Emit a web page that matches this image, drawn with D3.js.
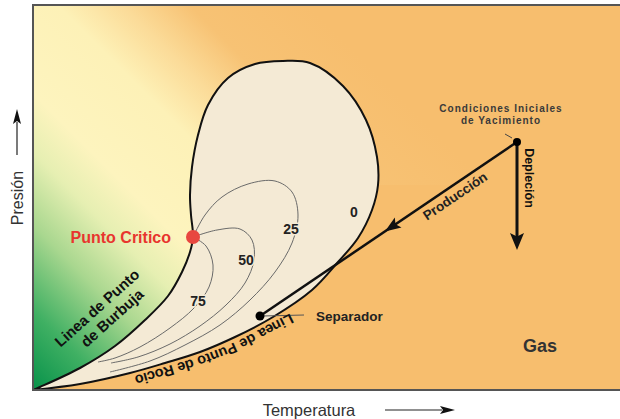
<!DOCTYPE html>
<html>
<head>
<meta charset="utf-8">
<script src="https://cdnjs.cloudflare.com/ajax/libs/d3/7.8.5/d3.min.js"></script>
<style>
  body { margin: 0; background: #fff; }
  svg { display: block; font-family: "Liberation Sans", Arial, sans-serif; }
</style>
</head>
<body>
<svg id="chart" width="620" height="419"></svg>
<script>
// Phase envelope (temperature / pressure in arbitrary units)
const bubbleLine = [[0,0],[7,3],[47,22],[82,44],[112,70],[135,94],[149,118],[157,138],[160,153]];
const dewLine = [[160,153],[158,175],[157,195],[159,223],[165,255],[175,285],[195,312],[222,326],
  [250,329],[277,327],[310,304],[333,270],[344,233],[345,205],[339,180],[325,152],[305,128],
  [279,100],[240,73],[202,53],[167,38],[132,27],[97,17],[47,6],[0,0]];

// iso-quality lines (% liquid)
const q75 = [[160,153],[173,144],[180,125],[176,103],[161,82],[137,62],[107,43],[82,32],[65,28]];
const q50 = [[160,153],[184,160],[207,161],[219,150],[221,130],[212,107],[193,85],[167,64],[137,46],[105,33],[78,27]];
const q25 = [[160,153],[172,175],[189,193],[215,206],[242,209],[259,198],[265,175],[259,147],[242,118],
  [217,90],[187,65],[152,45],[117,29],[77,18]];
const qualityLines = [q75, q50, q25];
const qualityLabels = [["75",165,89],["50",213,130],["25",258,161],["0",321,178]];

// dew-line label runs along this path (right to left)
const dewLabelPath = [[268,82],[240,68],[202,48],[167,34],[132,23],[97,13],[47,2]];

const criticalPoint = [160,153];
const initialPoint = [484,248];
const separatorPoint = [227,74];
const depletionEnd = [484,140];

const svg = d3.select("#chart");
const x = d3.scaleLinear().domain([0,587]).range([33,620]);
const y = d3.scaleLinear().domain([0,385]).range([390,5]);
const line = d3.line().x(d => x(d[0])).y(d => y(d[1])).curve(d3.curveCatmullRom.alpha(0.5));

const defs = svg.append("defs");
const grad = defs.append("linearGradient").attr("id","bg")
  .attr("gradientUnits","userSpaceOnUse")
  .attr("x1", x(0)).attr("y1", y(0)).attr("x2", x(330)).attr("y2", y(330));
[[0,"#07924a"],[0.12,"#40b063"],[0.25,"#a9d78f"],[0.36,"#e6efb2"],[0.45,"#fdf4be"],
 [0.62,"#fdf1b7"],[0.72,"#fbdb98"],[0.82,"#f7c274"],[1,"#f7be6e"]]
  .forEach(s => grad.append("stop").attr("offset", s[0]).attr("stop-color", s[1]));

defs.append("clipPath").attr("id","plot").append("rect")
  .attr("x", x(0)).attr("y", y(385)).attr("width", x(587)-x(0)).attr("height", y(0)-y(385));

const g = svg.append("g").attr("clip-path","url(#plot)");
g.append("rect").attr("x", x(0)).attr("y", y(385)).attr("width", x(587)-x(0)).attr("height", y(0)-y(385))
  .attr("fill","url(#bg)");

// gas region: flat orange below/right of the dew line
g.append("path")
  .attr("d", line(dewLine.slice(13)) + `L${x(587)},${y(0)}L${x(587)},${y(205)}Z`)
  .attr("fill","#f7be6e");

// envelope
const envelope = bubbleLine.concat(dewLine.slice(1));
g.append("path").attr("d", line(envelope) + "Z")
  .attr("fill","#f4ead5").attr("stroke","#111").attr("stroke-width",2).attr("stroke-linejoin","round");

g.selectAll("path.q").data(qualityLines).join("path").attr("class","q")
  .attr("d", line).attr("fill","none").attr("stroke","#6a6a6a").attr("stroke-width",1);

g.selectAll("text.ql").data(qualityLabels).join("text").attr("class","ql")
  .attr("x", d => x(d[1])).attr("y", d => y(d[2])).attr("dy","0.35em")
  .attr("text-anchor","middle").attr("font-size",14).attr("font-weight","bold").attr("fill","#222")
  .attr("stroke","#f4ead5").attr("stroke-width",3).attr("paint-order","stroke")
  .text(d => d[0]);

// production path
const [ix, iy] = [x(initialPoint[0]), y(initialPoint[1])];
const [sx, sy] = [x(separatorPoint[0]), y(separatorPoint[1])];
g.append("line").attr("x1", ix).attr("y1", iy).attr("x2", sx).attr("y2", sy)
  .attr("stroke","#111").attr("stroke-width",2.5);
g.append("line").attr("x1", ix).attr("y1", iy).attr("x2", x(depletionEnd[0])).attr("y2", y(depletionEnd[1]) - 12)
  .attr("stroke","#111").attr("stroke-width",3);

function arrowHead(tx, ty, ux, uy, len, w) {
  const nx = -uy, ny = ux;
  const bx = tx - ux*len, by = ty - uy*len;
  const mx = tx - ux*len*0.8, my = ty - uy*len*0.8;
  return `M${tx},${ty}L${bx+nx*w},${by+ny*w}L${mx},${my}L${bx-nx*w},${by-ny*w}Z`;
}
const plen = Math.hypot(sx-ix, sy-iy);
const pu = [(sx-ix)/plen, (sy-iy)/plen];
const tip = [ix + (sx-ix)*0.514, iy + (sy-iy)*0.514];
g.append("path").attr("d", arrowHead(tip[0], tip[1], pu[0], pu[1], 16, 6)).attr("fill","#111");
g.append("path").attr("d", arrowHead(x(depletionEnd[0]), y(depletionEnd[1]), 0, 1, 17, 7)).attr("fill","#111");

g.append("line").attr("x1", ix-12).attr("y1", iy-8).attr("x2", ix-5).attr("y2", iy-4)
  .attr("stroke","#444").attr("stroke-width",1);
g.append("line").attr("x1", sx+2).attr("y1", sy).attr("x2", sx+44).attr("y2", sy-1)
  .attr("stroke","#555").attr("stroke-width",1);

g.append("circle").attr("cx", ix).attr("cy", iy).attr("r", 4).attr("fill","#000");
g.append("circle").attr("cx", sx).attr("cy", sy).attr("r", 4.5).attr("fill","#000");
g.append("circle").attr("cx", x(criticalPoint[0])).attr("cy", y(criticalPoint[1])).attr("r", 7).attr("fill","#e8473f");

// labels
const txt = (px, py, s, opts) => {
  const t = g.append("text").attr("x", px).attr("y", py).text(s);
  Object.entries(opts || {}).forEach(([k, v]) => t.attr(k, v));
  return t;
};
txt(x(criticalPoint[0]) - 22, y(criticalPoint[1]), "Punto Critico",
  {"dy":"0.35em","text-anchor":"end","font-size":16,"font-weight":"bold","fill":"#e8352e"});

txt(x(468), y(278), "Condiciones Iniciales", {"text-anchor":"middle","font-size":10,"font-weight":"bold","fill":"#3a3a3a","letter-spacing":1});
txt(x(468), y(266), "de Yacimiento", {"text-anchor":"middle","font-size":10,"font-weight":"bold","fill":"#3a3a3a","letter-spacing":1});

const pAngle = Math.atan2(iy - sy, ix - sx) * 180 / Math.PI;
txt(0, 0, "Producción", {"text-anchor":"middle","dy":"0.35em","font-size":13.5,"font-weight":"bold","fill":"#222",
  "transform":`translate(${x(422)},${y(194)}) rotate(${pAngle})`});
txt(0, 0, "Depleción", {"text-anchor":"middle","dy":"0.35em","font-size":12.5,"font-weight":"bold","fill":"#111",
  "transform":`translate(${x(496)},${y(212)}) rotate(90)`});
txt(x(283), y(74), "Separador", {"dy":"0.35em","font-size":13.5,"font-weight":"bold","fill":"#222"});
txt(x(490), y(38), "Gas", {"font-size":18,"font-weight":"bold","fill":"#333"});

txt(0, 0, "Linea de Punto", {"text-anchor":"middle","dy":"0.35em","font-size":15,"font-weight":"bold","fill":"#111",
  "transform":`translate(${x(64)},${y(82)}) rotate(-42)`});
txt(0, 0, "de Burbuja", {"text-anchor":"middle","dy":"0.35em","font-size":15,"font-weight":"bold","fill":"#111",
  "transform":`translate(${x(79)},${y(72)}) rotate(-42)`});

defs.append("path").attr("id","dewtext").attr("d", line(dewLabelPath));
g.append("text").attr("font-size",14.5).attr("font-weight","bold").attr("fill","#111")
  .append("textPath").attr("href","#dewtext").attr("startOffset",12).text("Linea de Punto de Rocio");

// frame
svg.append("path").attr("d", `M${x(587)},${y(385)}H${x(0)}V${y(0)}H${x(587)}`)
  .attr("fill","none").attr("stroke","#555").attr("stroke-width",2);

// axis titles with arrows
svg.append("text").attr("transform", `translate(17,198) rotate(-90)`).attr("text-anchor","middle").attr("dy","0.35em")
  .attr("font-size",16).attr("fill","#333").text("Presión");
svg.append("line").attr("x1",17).attr("y1",155).attr("x2",17).attr("y2",122).attr("stroke","#222").attr("stroke-width",1.2);
svg.append("path").attr("d", arrowHead(17, 109, 0, -1, 15, 4)).attr("fill","#111");
svg.append("text").attr("x",309).attr("y",410).attr("text-anchor","middle").attr("dy","0.35em")
  .attr("font-size",16.5).attr("fill","#333").text("Temperatura");
svg.append("line").attr("x1",385).attr("y1",410).attr("x2",442).attr("y2",410).attr("stroke","#222").attr("stroke-width",1.2);
svg.append("path").attr("d", arrowHead(455, 410, 1, 0, 15, 4)).attr("fill","#111");
</script>
</body>
</html>
